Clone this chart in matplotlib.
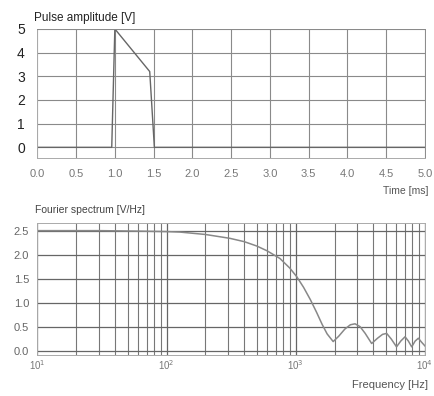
import matplotlib
matplotlib.use("Agg")
import matplotlib.pyplot as plt
from matplotlib.ticker import LogLocator, FixedLocator

plt.rcParams['font.family'] = ['Liberation Sans', 'DejaVu Sans']

# Pulse (time domain)
t_ms = [0.0, 0.96, 1.0, 1.45, 1.51, 5.0]
amp_v = [0.0, 0.0, 5.0, 3.2, 0.0, 0.0]

time_ticks = [0.0, 0.5, 1.0, 1.5, 2.0, 2.5, 3.0, 3.5, 4.0, 4.5, 5.0]
time_labels = ["0.0", "0.5", "1.0", "1.5", "2.0", "2.5", "3.0", "3.5", "4.0", "4.5", "5.0"]
amp_ticks = [0, 1, 2, 3, 4, 5]

# Fourier spectrum
freq_hz = [10, 30, 60, 100, 127, 200, 309, 400, 499, 600, 755, 900, 1019, 1150,
           1300, 1450, 1600, 1750, 1950, 2150, 2400, 2650, 2880, 3150, 3450, 3870,
           4300, 4700, 5060, 5500, 6030, 6500, 7020, 7450, 7900, 8400, 8900, 9400, 10000]
spec = [2.50, 2.50, 2.49, 2.48, 2.47, 2.42, 2.34, 2.27, 2.18, 2.08, 1.92, 1.72, 1.54, 1.32,
        1.06, 0.80, 0.55, 0.35, 0.19, 0.30, 0.45, 0.54, 0.56, 0.50, 0.36, 0.15,
        0.26, 0.34, 0.36, 0.24, 0.08, 0.20, 0.29, 0.20, 0.08, 0.20, 0.26, 0.18, 0.10]

freq_ticks = [10, 100, 1000, 10000]
freq_labels = ["10$^1$", "10$^2$", "10$^3$", "10$^4$"]
spec_ticks = [0.0, 0.5, 1.0, 1.5, 2.0, 2.5]
spec_labels = ["0.0", "0.5", "1.0", "1.5", "2.0", "2.5"]

fig = plt.figure(figsize=(4.35, 3.96), dpi=100)
fig.patch.set_facecolor('white')

grid_c = '#8a8a8a'
# ---- top axes
ax1 = fig.add_axes([0.0858, 0.601, 0.891, 0.326])
ax1.set_xlim(0, 5.0)
ax1.set_ylim(-0.45, 5.0)
ax1.set_xticks(time_ticks)
ax1.set_xticklabels(time_labels)
ax1.set_yticks(amp_ticks)
ax1.grid(True, color=grid_c, lw=0.8)
ax1.set_axisbelow(True)
ax1.plot(t_ms, amp_v, color='#666666', lw=1.0)
for s in ax1.spines.values():
    s.set_color('#aaaaaa')
    s.set_linewidth(0.7)
ax1.spines['right'].set_color(grid_c)
ax1.spines['top'].set_color(grid_c)
ax1.tick_params(length=0, pad=6)
ax1.tick_params(axis='y', labelsize=10, labelcolor='#222222', pad=9)
ax1.tick_params(axis='x', labelsize=8, labelcolor='#777777', pad=8)
fig.text(0.078, 0.955, "Pulse amplitude [V]", fontsize=8.5, color='#222222', ha='left', va='center')
fig.text(0.985, 0.517, "Time [ms]", fontsize=7.5, color='#555555', ha='right', va='center')

# ---- bottom axes
ax2 = fig.add_axes([0.0858, 0.1035, 0.891, 0.3335])
ax2.set_xscale('log')
ax2.set_xlim(10, 10000)
ax2.set_ylim(-0.09, 2.66)
ax2.xaxis.set_major_locator(FixedLocator(freq_ticks))
ax2.set_xticklabels(freq_labels)
ax2.xaxis.set_minor_locator(LogLocator(base=10, subs=range(2, 10)))
ax2.set_yticks(spec_ticks)
ax2.set_yticklabels(spec_labels)
ax2.grid(True, which='major', color='#666666', lw=0.9)
ax2.grid(True, which='minor', axis='x', color='#777777', lw=0.8)
ax2.set_axisbelow(True)
ax2.plot(freq_hz, spec, color='#888888', lw=1.1)
for s in ax2.spines.values():
    s.set_color('#aaaaaa')
    s.set_linewidth(0.7)
ax2.tick_params(which='both', length=0)
ax2.tick_params(axis='y', labelsize=8, labelcolor='#666666', pad=6)
ax2.tick_params(axis='x', labelsize=7, labelcolor='#777777', pad=2)
ax2.xaxis.set_minor_formatter(plt.NullFormatter())
fig.text(0.080, 0.469, "Fourier spectrum [V/Hz]", fontsize=7.5, color='#444444', ha='left', va='center')
fig.text(0.985, 0.028, "Frequency [Hz]", fontsize=8, color='#555555', ha='right', va='center')

fig.savefig("out.png", dpi=100, facecolor='white')
